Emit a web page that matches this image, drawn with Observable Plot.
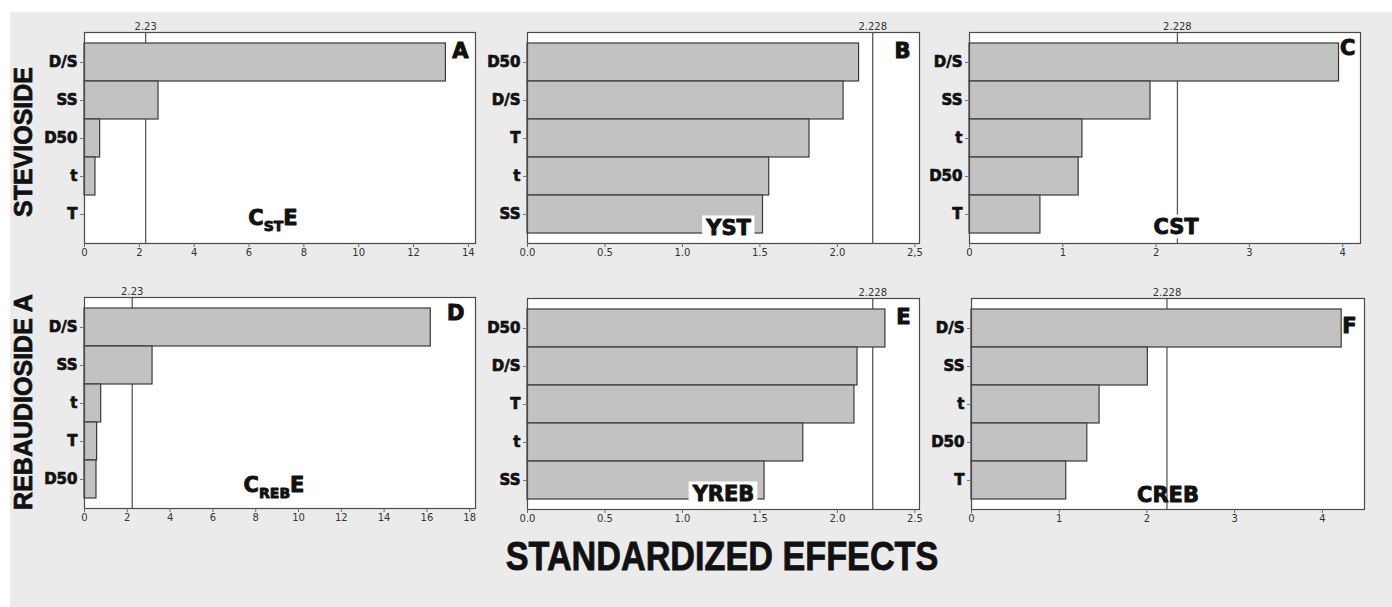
<!DOCTYPE html>
<html>
<head>
<meta charset="utf-8">
<script src="https://cdn.jsdelivr.net/npm/d3@7"></script>
<script src="https://cdn.jsdelivr.net/npm/@observablehq/plot@0.6"></script>
<style>
  html, body { margin: 0; padding: 0; background: #ffffff; }
  #stage { position: relative; width: 1392px; height: 607px; overflow: hidden; font-family: "Liberation Sans", Arial, sans-serif; }
  #bg { position: absolute; left: 10px; top: 12px; right: 0; bottom: 0; background: #ebebeb; }
  .panel { position: absolute; }
  .rowlabel { position: absolute; font-weight: bold; font-size: 25px; line-height: 1; white-space: nowrap; color: #111;
              -webkit-text-stroke: 0.7px #111;
              transform: translate(-50%, -50%) rotate(-90deg); }
  #xtitle { position: absolute; left: 722px; top: 556px; font-weight: bold; font-size: 40px; line-height: 1; white-space: nowrap; color: #111;
            -webkit-text-stroke: 0.8px #111;
            transform: translate(-50%, -50%) scaleX(0.855); }
</style>
</head>
<body>
<div id="stage">
  <div id="bg"></div>
  <div class="rowlabel" style="left:23px; top:142px;">STEVIOSIDE</div>
  <div class="rowlabel" style="left:23px; top:402px;">REBAUDIOSIDE A</div>
  <div id="xtitle">STANDARDIZED EFFECTS</div>
</div>
<script>
// ---- Data ----
const factorsA = ["D/S", "SS", "D50", "t", "T"];
const effectsA = [13.18, 2.70, 0.57, 0.40, 0.0];
const factorsB = ["D50", "D/S", "T", "t", "SS"];
const effectsB = [2.14, 2.04, 1.82, 1.56, 1.52];
const factorsC = ["D/S", "SS", "t", "D50", "T"];
const effectsC = [3.96, 1.94, 1.21, 1.17, 0.76];
const factorsD = ["D/S", "SS", "t", "T", "D50"];
const effectsD = [16.18, 3.18, 0.78, 0.59, 0.56];
const factorsE = ["D50", "D/S", "T", "t", "SS"];
const effectsE = [2.31, 2.13, 2.11, 1.78, 1.53];
const factorsF = ["D/S", "SS", "t", "D50", "T"];
const effectsF = [4.22, 2.01, 1.46, 1.32, 1.08];

const refValues = [2.23, 2.228, 2.228, 2.23, 2.228, 2.228];
const refLabels = ["2.23", "2.228", "2.228", "2.23", "2.228", "2.228"];
const panelLetters = ["A", "B", "C", "D", "E", "F"];
const responseLabels = ["C|ST|E", "YST", "CST", "C|REB|E", "YREB", "CREB"];

const xTicksA = [0, 2, 4, 6, 8, 10, 12, 14];
const xTickLabelsA = ["0", "2", "4", "6", "8", "10", "12", "14"];
const xTicksB = [0, 0.5, 1.0, 1.5, 2.0, 2.5];
const xTickLabelsB = ["0.0", "0.5", "1.0", "1.5", "2.0", "2,5"];
const xTicksC = [0, 1, 2, 3, 4];
const xTickLabelsC = ["0", "1", "2", "3", "4"];
const xTicksD = [0, 2, 4, 6, 8, 10, 12, 14, 16, 18];
const xTickLabelsD = ["0", "2", "4", "6", "8", "10", "12", "14", "16", "18"];
const xTicksE = [0, 0.5, 1.0, 1.5, 2.0, 2.5];
const xTickLabelsE = ["0.0", "0.5", "1.0", "1.5", "2.0", "2.5"];
const xTicksF = [0, 1, 2, 3, 4];
const xTickLabelsF = ["0", "1", "2", "3", "4"];

// ---- Layout (styling only) ----
const panels = [
  {factors: factorsA, effects: effectsA, ticks: xTicksA, tickLabels: xTickLabelsA, xmax: 14.26,
   left: 0, top: 12, w: 480, ml: 84, mr: 5, labelDx: -7, labelDy: -19, box: false, letterDx: -7, letterDy: 25},
  {factors: factorsB, effects: effectsB, ticks: xTicksB, tickLabels: xTickLabelsB, xmax: 2.53,
   left: 470, top: 12, w: 455, ml: 57, mr: 6, labelDx: 5, labelDy: -9, box: true, letterDx: -9, letterDy: 25},
  {factors: factorsC, effects: effectsC, ticks: xTicksC, tickLabels: xTickLabelsC, xmax: 4.19,
   left: 920, top: 12, w: 472, ml: 49, mr: 32, labelDx: 11, labelDy: -10, box: true, letterDx: -5, letterDy: 22},
  {factors: factorsD, effects: effectsD, ticks: xTicksD, tickLabels: xTickLabelsD, xmax: 18.27,
   left: 0, top: 277, w: 480, ml: 84, mr: 5, labelDx: -6, labelDy: -17, box: false, letterDx: -11, letterDy: 22},
  {factors: factorsE, effects: effectsE, ticks: xTicksE, tickLabels: xTickLabelsE, xmax: 2.53,
   left: 470, top: 278, w: 455, ml: 57, mr: 6, labelDx: 0, labelDy: -9, box: true, letterDx: -9, letterDy: 25},
  {factors: factorsF, effects: effectsF, ticks: xTicksF, tickLabels: xTickLabelsF, xmax: 4.48,
   left: 920, top: 278, w: 472, ml: 51, mr: 28, labelDx: 0, labelDy: -8, box: false, letterDx: -8, letterDy: 34}
];

const stage = document.getElementById("stage");
const FONT = "'Liberation Sans', Arial, sans-serif";
const HEAVY = "'DejaVu Sans', 'Liberation Sans', sans-serif";

panels.forEach((p, k) => {
  const data = p.factors.map((f, i) => ({factor: f, effect: p.effects[i]}));
  const ref = refValues[k];
  const svg = Plot.plot({
    width: p.w,
    height: 253,
    marginLeft: p.ml,
    marginRight: p.mr,
    marginTop: 20,
    marginBottom: 22,
    style: {background: "transparent", fontFamily: FONT, overflow: "visible"},
    x: {domain: [0, p.xmax]},
    y: {domain: p.factors, paddingInner: 0, paddingOuter: 0.23},
    marks: [
      Plot.frame({fill: "white", stroke: "none"}),
      Plot.ruleX([ref], {stroke: "#5a5a5a", strokeWidth: 1.3}),
      Plot.barX(data, {x: "effect", y: "factor", fill: "#c2c2c2", stroke: "#3a3a3a", strokeWidth: 1.2}),
      Plot.frame({stroke: "#4a4a4a", strokeWidth: 1.2}),
      Plot.axisX({ticks: p.ticks, tickFormat: d => p.tickLabels[p.ticks.indexOf(d)], tickSize: 4, tickPadding: 1,
                  fontSize: 10, fill: "#333", stroke: "#666", label: null, fontFamily: "'DejaVu Sans', sans-serif"}),
      Plot.axisY({tickSize: 4, tickPadding: 3, fontSize: 15, fontWeight: "bold", fill: "#111", stroke: "#777",
                  textStroke: "#111", textStrokeWidth: 0.7, label: null, fontFamily: HEAVY}),
      Plot.text([refLabels[k]], {x: () => ref, text: d => d, frameAnchor: "top", lineAnchor: "bottom", dy: -3,
                                 fontSize: 10, fill: "#333", fontFamily: "'DejaVu Sans', sans-serif"}),
      Plot.text([panelLetters[k]], {text: d => d, frameAnchor: "top-right", textAnchor: "end", lineAnchor: "bottom",
                                    dx: p.letterDx, dy: p.letterDy, fontSize: 21, fontWeight: "bold", fill: "#111",
                                    fontFamily: HEAVY, stroke: "#111", strokeWidth: 1}),
      Plot.text([responseLabels[k]], {text: d => d, frameAnchor: "bottom", lineAnchor: "bottom",
                                      dx: p.labelDx, dy: p.labelDy, fontSize: 21, fontWeight: "bold", fill: "#111",
                                      fontFamily: HEAVY, stroke: "#111", strokeWidth: 0.9})
    ]
  });
  const wrap = document.createElement("div");
  wrap.className = "panel";
  wrap.style.left = p.left + "px";
  wrap.style.top = p.top + "px";
  wrap.appendChild(svg);
  stage.appendChild(wrap);

  // subscripts for labels written as "main|sub|tail"; white box behind boxed labels
  d3.select(svg).selectAll("text").each(function() {
    const t = this.textContent;
    if (t.includes("|")) {
      const parts = t.split("|");
      const sel = d3.select(this);
      sel.text(null);
      sel.append("tspan").text(parts[0]);
      sel.append("tspan").attr("font-size", 14).attr("dy", 6).text(parts[1]);
      sel.append("tspan").attr("font-size", 21).attr("dy", -6).text(parts[2]);
    } else if (p.box && t === responseLabels[k]) {
      const bb = this.getBBox();
      const ctm = this.getAttribute("transform");
      const r = document.createElementNS("http://www.w3.org/2000/svg", "rect");
      r.setAttribute("x", bb.x - 3);
      r.setAttribute("y", bb.y);
      r.setAttribute("width", bb.width + 6);
      r.setAttribute("height", bb.height);
      r.setAttribute("fill", "white");
      r.setAttribute("stroke", "none");
      if (ctm) r.setAttribute("transform", ctm);
      this.parentNode.insertBefore(r, this);
    }
  });
});
</script>
</body>
</html>
